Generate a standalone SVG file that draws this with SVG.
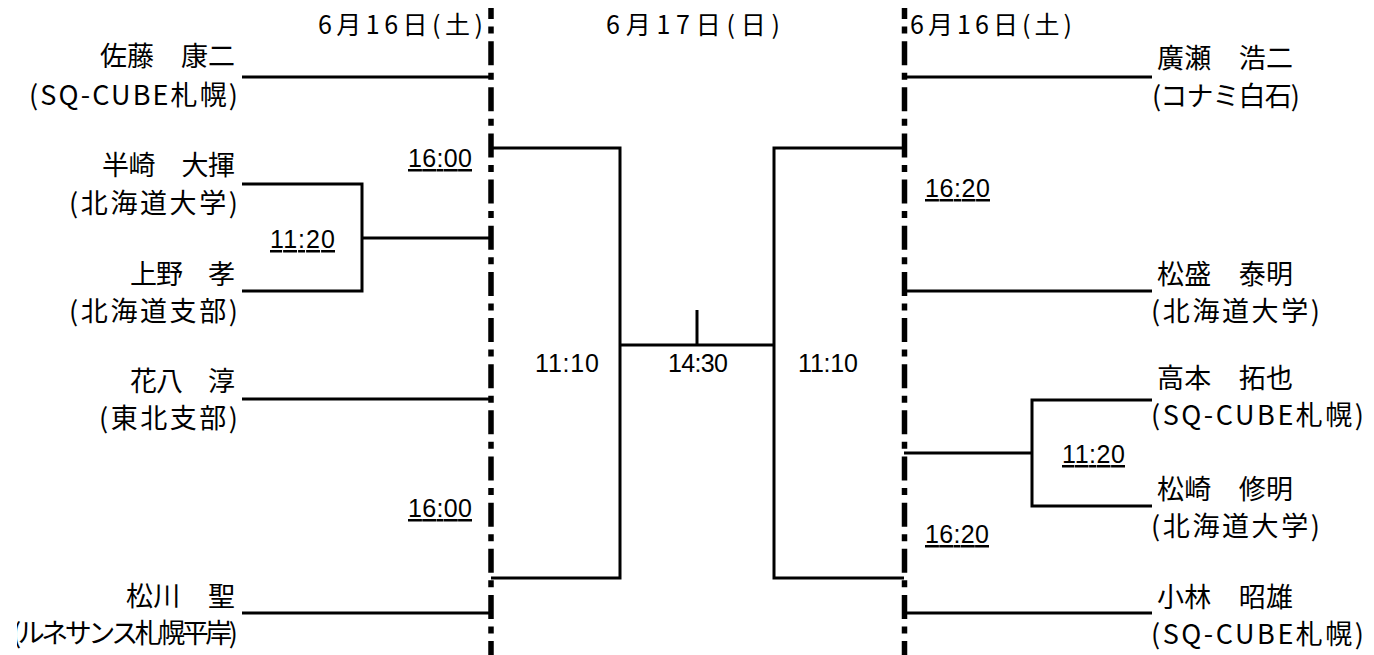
<svg xmlns="http://www.w3.org/2000/svg" width="1374" height="655" viewBox="0 0 1374 655">
<style>
  .jp { font-family: "Noto Sans CJK JP", "Liberation Sans", sans-serif; font-size: 27px; fill: #000; }
  .date { font-family: "Noto Sans CJK JP", "Liberation Sans", sans-serif; font-size: 25px; fill: #000; }
  .num { font-family: "Liberation Sans", "DejaVu Sans", sans-serif; font-size: 25px; fill: #000; }
  .ul { text-decoration: underline; }
  .end { text-anchor: end; }
  .conn { fill: none; stroke: #000; stroke-width: 3; }
  .divider { stroke: #000; stroke-width: 5.5; stroke-dasharray: 24 7.5 7 7.65; stroke-dashoffset: 13; }
</style>
<defs>
  <clipPath id="clipLeft"><rect x="17" y="0" width="300" height="655"/></clipPath>
</defs>
<rect width="1374" height="655" fill="#fff"/>

<g id="dividers">
  <line class="divider" x1="491" y1="8" x2="491" y2="655"/>
  <line class="divider" x1="904.5" y1="8" x2="904.5" y2="655"/>
</g>

<g id="dates">
  <text class="date" x="318" y="34" textLength="165" lengthAdjust="spacing">6月16日(土)</text>
  <text class="date" x="606" y="34" textLength="174" lengthAdjust="spacing">6月17日(日)</text>
  <text class="date" x="910" y="34" textLength="162" lengthAdjust="spacing">6月16日(土)</text>
</g>

<g id="connectors">
  <path class="conn" d="M242,77 H491"/>
  <path class="conn" d="M242,184 H362 V291 H242"/>
  <path class="conn" d="M362,238 H491"/>
  <path class="conn" d="M242,399 H491"/>
  <path class="conn" d="M242,613 H491"/>
  <path class="conn" d="M491,148 H620 V578 H491"/>
  <path class="conn" d="M620,345 H774"/>
  <path class="conn" d="M697,310 V345"/>
  <path class="conn" d="M904,148 H774 V578 H904"/>
  <path class="conn" d="M904,77 H1152"/>
  <path class="conn" d="M904,291 H1152"/>
  <path class="conn" d="M1152,400 H1032 V506 H1152"/>
  <path class="conn" d="M1032,453 H904"/>
  <path class="conn" d="M904,613 H1152"/>
</g>

<g id="p-sato">
  <text class="jp end" x="235" y="66" textLength="135" lengthAdjust="spacing">佐藤　康二</text>
  <text class="jp end" x="238" y="105" textLength="209" lengthAdjust="spacing">(SQ-CUBE札幌)</text>
</g>
<g id="p-hanzaki">
  <text class="jp end" x="235" y="175" textLength="133" lengthAdjust="spacing">半崎　大揮</text>
  <text class="jp end" x="238" y="213" textLength="169" lengthAdjust="spacing">(北海道大学)</text>
</g>
<g id="p-ueno">
  <text class="jp end" x="235" y="284" textLength="105" lengthAdjust="spacing">上野　孝</text>
  <text class="jp end" x="238" y="321" textLength="169" lengthAdjust="spacing">(北海道支部)</text>
</g>
<g id="p-hanahachi">
  <text class="jp end" x="235" y="391" textLength="105" lengthAdjust="spacing">花八　淳</text>
  <text class="jp end" x="238" y="428" textLength="139" lengthAdjust="spacing">(東北支部)</text>
</g>
<g id="p-matsukawa">
  <text class="jp end" x="235" y="606" textLength="109" lengthAdjust="spacing">松川　聖</text>
  <g clip-path="url(#clipLeft)">
    <text class="jp end" x="238" y="643" textLength="226" lengthAdjust="spacing">(ルネサンス札幌平岸)</text>
  </g>
</g>

<g id="p-hirose">
  <text class="jp" x="1157" y="68" textLength="136" lengthAdjust="spacing">廣瀬　浩二</text>
  <text class="jp" x="1152" y="106" textLength="148" lengthAdjust="spacing">(コナミ白石)</text>
</g>
<g id="p-matsumori">
  <text class="jp" x="1157" y="284" textLength="136" lengthAdjust="spacing">松盛　泰明</text>
  <text class="jp" x="1151" y="321" textLength="169" lengthAdjust="spacing">(北海道大学)</text>
</g>
<g id="p-takamoto">
  <text class="jp" x="1157" y="388" textLength="136" lengthAdjust="spacing">高本　拓也</text>
  <text class="jp" x="1151" y="425" textLength="213" lengthAdjust="spacing">(SQ-CUBE札幌)</text>
</g>
<g id="p-matsuzaki">
  <text class="jp" x="1157" y="499" textLength="136" lengthAdjust="spacing">松崎　修明</text>
  <text class="jp" x="1151" y="536" textLength="169" lengthAdjust="spacing">(北海道大学)</text>
</g>
<g id="p-kobayashi">
  <text class="jp" x="1157" y="607" textLength="136" lengthAdjust="spacing">小林　昭雄</text>
  <text class="jp" x="1151" y="644" textLength="213" lengthAdjust="spacing">(SQ-CUBE札幌)</text>
</g>

<g id="times">
  <text class="num ul end" x="472" y="167" textLength="64" lengthAdjust="spacing">16:00</text>
  <text class="num ul" x="270" y="248" textLength="65" lengthAdjust="spacing">11:20</text>
  <text class="num ul end" x="472" y="517" textLength="64" lengthAdjust="spacing">16:00</text>
  <text class="num" x="535" y="372" textLength="64" lengthAdjust="spacing">11:10</text>
  <text class="num" x="668" y="372" textLength="60" lengthAdjust="spacing">14:30</text>
  <text class="num" x="798" y="372" textLength="60" lengthAdjust="spacing">11:10</text>
  <text class="num ul" x="925" y="197" textLength="65" lengthAdjust="spacing">16:20</text>
  <text class="num ul" x="1062" y="463" textLength="63" lengthAdjust="spacing">11:20</text>
  <text class="num ul" x="925" y="543" textLength="64" lengthAdjust="spacing">16:20</text>
</g>
</svg>
